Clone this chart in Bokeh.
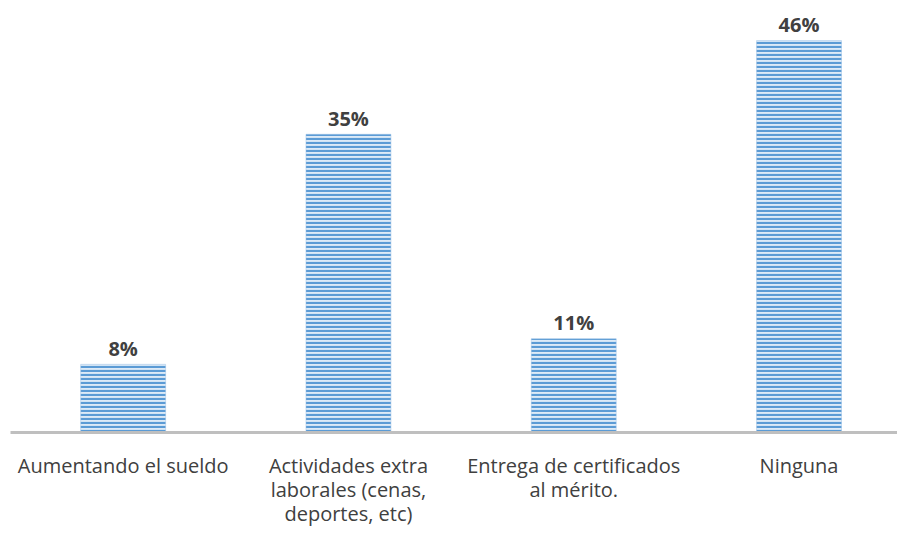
from bokeh.plotting import figure
from bokeh.models import Range1d, FixedTicker, ColumnDataSource
from bokeh.core.properties import value
from bokeh.embed import file_html
from bokeh.resources import INLINE

categories = ["Aumentando el sueldo",
              "Actividades extra\nlaborales (cenas,\ndeportes, etc)",
              "Entrega de certificados\nal mérito.",
              "Ninguna"]
values = [8, 35, 11, 46]
labels = ["8%", "35%", "11%", "46%"]

xs = [i + 0.5 for i in range(len(categories))]
src = ColumnDataSource(dict(x=xs, top=values, lab=labels))

p = figure(width=897, height=533, output_backend="svg", toolbar_location=None,
           x_range=Range1d(0, 3.937), y_range=Range1d(0, 50.7),
           min_border_left=10, min_border_right=0, min_border_top=0, min_border_bottom=101)
p.outline_line_color = None
p.grid.grid_line_color = None
p.yaxis.visible = False

p.vbar(x="x", top="top", bottom=0, width=0.377, source=src,
       fill_color="#DDEAF7", line_color="#9DC3E6", line_width=0.5,
       hatch_pattern="horizontal_line", hatch_color="#5B9BD5",
       hatch_scale=4, hatch_weight=2.2)

p.text(x="x", y="top", text="lab", source=src, y_offset=-16,
       text_align="center", text_baseline="alphabetic",
       text_font=value("Open Sans"), text_font_style="bold",
       text_font_size="20px", text_color="#404040")

ax = p.xaxis[0]
ax.ticker = FixedTicker(ticks=xs)
ax.major_label_overrides = {x: c for x, c in zip(xs, categories)}
ax.axis_line_color = "#BFBFBF"
ax.axis_line_width = 3
ax.major_tick_line_color = None
ax.minor_tick_line_color = None
ax.major_label_standoff = 13
ax.major_label_text_font = "Open Sans"
ax.major_label_text_font_size = "20px"
ax.major_label_text_color = "#404040"
ax.major_label_text_line_height = 0.9

open("out.html", "w").write(file_html(p, INLINE))
